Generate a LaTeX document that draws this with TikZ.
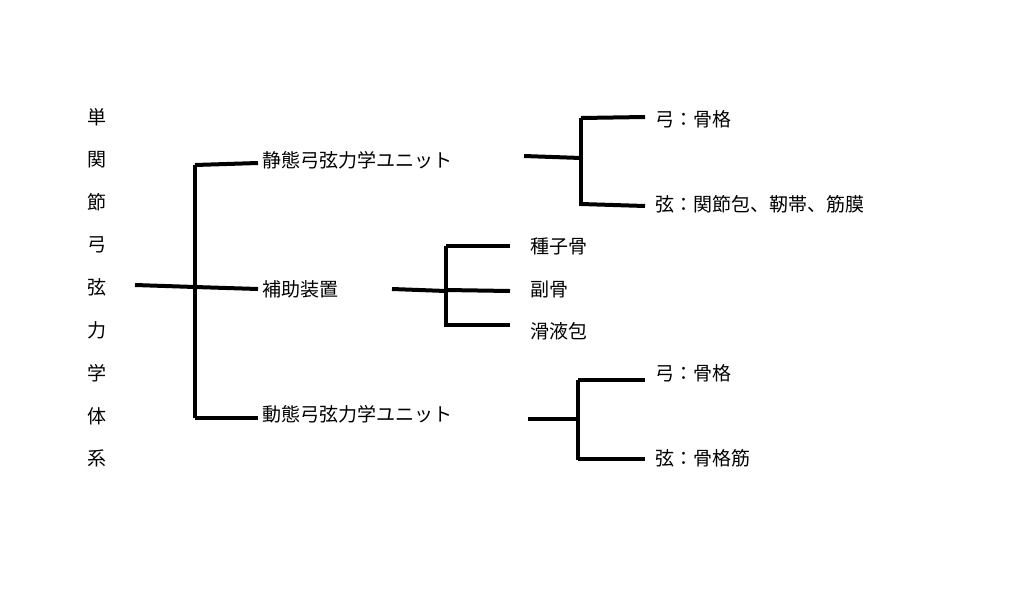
\documentclass[tikz,border=0pt]{standalone}
\usepackage{fontspec}
\setmainfont{Noto Sans CJK JP}
\begin{document}
\begin{tikzpicture}[x=1pt,y=-1pt,
  br/.style={line width=4pt,line cap=butt},
  lb/.style={anchor=west,inner sep=0pt,font=\fontsize{19}{21}\selectfont},
  vc/.style={inner sep=0pt,font=\fontsize{19}{21}\selectfont}]
\useasboundingbox[fill=white] (0,0) rectangle (1024,592);
\foreach \c [count=\i] in {単,関,節,弓,弦,力,学,体,系}
  \node[vc] (v\i) at (97,{117+42.7*(\i-1)}) {\c};
\coordinate (r0) at (135,285);
\coordinate (r1) at (195,287);
\coordinate (t0) at (195,165);
\coordinate (b0) at (195,418);
\node[lb] (A) at (262,160) {静態弓弦力学ユニット};
\node[lb] (B) at (262,289) {補助装置};
\node[lb] (C) at (262,414) {動態弓弦力学ユニット};
\draw[br] (r0) -- (r1);
\draw[br] (t0) -- (b0);
\draw[br] (t0) -- (258,163);
\draw[br] (r1) -- (258,289);
\draw[br] (b0) -- (258,418);
% top
\node[lb] (A1) at (655,119) {弓：骨格};
\node[lb] (A2) at (655,204) {弦：関節包、靭帯、筋膜};
\draw[br] (524,156) -- (581,158);
\draw[br] (581,118) -- (581,206);
\draw[br] (581,118) -- (645,117);
\draw[br] (581,204) -- (645,206);
% middle
\node[lb] (B1) at (530,246) {種子骨};
\node[lb] (B2) at (530,289) {副骨};
\node[lb] (B3) at (530,331) {滑液包};
\draw[br] (392,289) -- (446,291);
\draw[br] (446,246) -- (446,327);
\draw[br] (446,246) -- (510,246);
\draw[br] (446,290) -- (510,291);
\draw[br] (446,325) -- (510,325);
% bottom
\node[lb] (C1) at (655,373) {弓：骨格};
\node[lb] (C2) at (655,458) {弦：骨格筋};
\draw[br] (528,419) -- (578,419);
\draw[br] (578,380) -- (578,460);
\draw[br] (578,380) -- (645,380);
\draw[br] (578,459) -- (645,459);
\end{tikzpicture}
\end{document}
